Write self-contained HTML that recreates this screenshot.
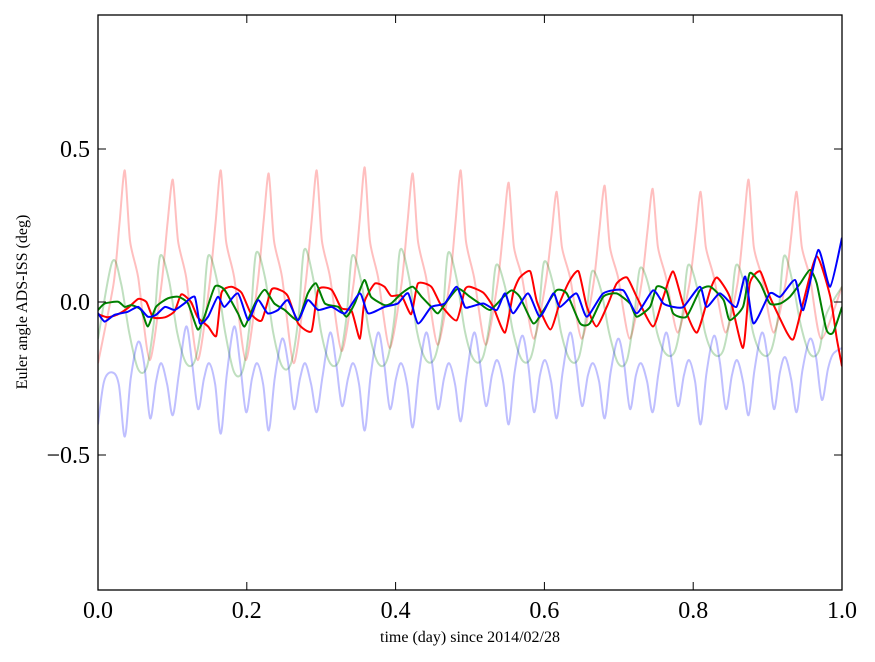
<!DOCTYPE html>
<html><head><meta charset="utf-8"><style>
body{margin:0;background:#fff;}
svg{display:block;font-family:"Liberation Serif",serif;}
</style></head><body>
<svg id="chart" width="875" height="662"></svg>
<script>
const pinkX=[0,0.021,0.029,0.036,0.043,0.054,0.0695,0.0855,0.0935,0.1005,0.1075,0.1185,0.134,0.150,0.158,0.165,0.172,0.183,0.1985,0.2145,0.2225,0.2295,0.2365,0.2475,0.263,0.279,0.287,0.294,0.301,0.312,0.3275,0.3435,0.3515,0.3585,0.3655,0.3765,0.392,0.408,0.416,0.423,0.430,0.441,0.4565,0.4725,0.4805,0.4875,0.4945,0.5055,0.521,0.537,0.545,0.552,0.559,0.570,0.5855,0.6015,0.6095,0.6165,0.6235,0.6345,0.650,0.666,0.674,0.681,0.688,0.699,0.7145,0.7305,0.7385,0.7455,0.7525,0.7635,0.779,0.795,0.803,0.810,0.817,0.828,0.8435,0.8595,0.8675,0.8745,0.8815,0.8925,0.908,0.924,0.932,0.939,0.946,0.957,0.972,1.0];
const pinkY=[-0.2,0.06,0.26,0.43,0.2,0.08,-0.19,0.06,0.26,0.40,0.2,0.08,-0.19,0.06,0.26,0.43,0.2,0.08,-0.19,0.06,0.26,0.42,0.2,0.08,-0.2,0.06,0.26,0.43,0.2,0.08,-0.16,0.06,0.26,0.44,0.2,0.08,-0.15,0.06,0.26,0.42,0.2,0.08,-0.14,0.06,0.26,0.43,0.2,0.08,-0.14,0.06,0.24,0.39,0.18,0.08,-0.12,0.06,0.22,0.36,0.18,0.08,-0.12,0.06,0.24,0.38,0.18,0.08,-0.12,0.06,0.23,0.37,0.18,0.08,-0.1,0.06,0.22,0.36,0.18,0.08,-0.1,0.06,0.24,0.40,0.18,0.08,-0.1,0.06,0.22,0.36,0.18,0.08,-0.12,0.05];
const lgreenX=[0,0.019,0.031,0.042,0.054,0.066,0.076,0.0835,0.0955,0.1065,0.1185,0.1305,0.1405,0.148,0.160,0.171,0.183,0.195,0.205,0.2125,0.2245,0.2355,0.2475,0.2595,0.2695,0.277,0.289,0.300,0.312,0.324,0.334,0.3415,0.3535,0.3645,0.3765,0.3885,0.3985,0.406,0.418,0.429,0.441,0.453,0.463,0.4705,0.4825,0.4935,0.5055,0.5175,0.5275,0.535,0.547,0.558,0.570,0.582,0.592,0.5995,0.6115,0.6225,0.6345,0.6465,0.6565,0.664,0.676,0.687,0.699,0.711,0.721,0.7285,0.7405,0.7515,0.7635,0.7755,0.7855,0.793,0.805,0.816,0.828,0.840,0.850,0.8575,0.8695,0.8805,0.8925,0.9045,0.9145,0.922,0.934,0.945,0.957,0.969,0.979,1.0];
const lgreenY=[-0.12,0.13,0.06,-0.1,-0.22,-0.21,-0.05,0.15,0.07,-0.1,-0.2,-0.19,-0.05,0.15,0.07,-0.1,-0.23,-0.22,-0.05,0.16,0.08,-0.1,-0.21,-0.2,-0.05,0.17,0.08,-0.1,-0.2,-0.19,-0.05,0.15,0.07,-0.1,-0.2,-0.19,-0.05,0.17,0.08,-0.1,-0.19,-0.18,-0.05,0.16,0.07,-0.1,-0.19,-0.18,-0.05,0.12,0.05,-0.1,-0.19,-0.18,-0.05,0.13,0.06,-0.1,-0.19,-0.18,-0.04,0.10,0.04,-0.1,-0.2,-0.19,-0.04,0.11,0.05,-0.1,-0.17,-0.16,-0.04,0.12,0.05,-0.1,-0.17,-0.16,-0.04,0.12,0.05,-0.1,-0.17,-0.16,-0.04,0.15,0.06,-0.08,-0.17,-0.16,-0.04,0.05];
const lblueX=[0,0.008,0.019,0.028,0.036,0.044,0.054,0.062,0.070,0.078,0.085,0.093,0.1005,0.1085,0.1185,0.1265,0.1345,0.1425,0.1495,0.1575,0.165,0.173,0.183,0.191,0.199,0.207,0.214,0.222,0.2295,0.2375,0.2475,0.2555,0.2635,0.2715,0.2785,0.2865,0.294,0.302,0.312,0.320,0.328,0.336,0.343,0.351,0.3585,0.3665,0.3765,0.3845,0.3925,0.4005,0.4075,0.4155,0.423,0.431,0.441,0.449,0.457,0.465,0.472,0.480,0.4875,0.4955,0.5055,0.5135,0.5215,0.5295,0.5365,0.5445,0.552,0.560,0.570,0.578,0.586,0.594,0.601,0.609,0.6165,0.6245,0.6345,0.6425,0.6505,0.6585,0.6655,0.6735,0.681,0.689,0.699,0.707,0.715,0.723,0.730,0.738,0.7455,0.7535,0.7635,0.7715,0.7795,0.7875,0.7945,0.8025,0.810,0.818,0.828,0.836,0.844,0.852,0.859,0.867,0.8745,0.8825,0.8925,0.9005,0.9085,0.9165,0.9235,0.9315,0.939,0.947,0.957,0.965,0.973,0.981,0.988,1.0];
const lblueY=[-0.40,-0.26,-0.23,-0.27,-0.44,-0.25,-0.13,-0.2,-0.38,-0.26,-0.2,-0.27,-0.37,-0.24,-0.08,-0.2,-0.35,-0.25,-0.2,-0.27,-0.43,-0.24,-0.08,-0.2,-0.36,-0.25,-0.2,-0.27,-0.42,-0.25,-0.12,-0.2,-0.35,-0.25,-0.2,-0.27,-0.36,-0.24,-0.10,-0.2,-0.34,-0.25,-0.2,-0.27,-0.42,-0.24,-0.10,-0.2,-0.35,-0.25,-0.2,-0.27,-0.41,-0.24,-0.10,-0.2,-0.35,-0.25,-0.2,-0.27,-0.39,-0.24,-0.10,-0.2,-0.34,-0.24,-0.19,-0.26,-0.40,-0.23,-0.11,-0.2,-0.36,-0.24,-0.19,-0.26,-0.38,-0.23,-0.10,-0.2,-0.34,-0.24,-0.2,-0.26,-0.38,-0.23,-0.12,-0.2,-0.35,-0.24,-0.2,-0.26,-0.36,-0.23,-0.10,-0.2,-0.34,-0.24,-0.19,-0.26,-0.40,-0.23,-0.11,-0.2,-0.35,-0.24,-0.19,-0.26,-0.37,-0.22,-0.10,-0.19,-0.35,-0.23,-0.18,-0.25,-0.36,-0.22,-0.12,-0.18,-0.32,-0.22,-0.17,-0.15];
const redX=[0,0.013,0.027,0.040,0.054,0.065,0.074,0.090,0.103,0.112,0.125,0.134,0.148,0.159,0.166,0.179,0.193,0.206,0.220,0.233,0.244,0.255,0.269,0.287,0.296,0.314,0.327,0.341,0.352,0.358,0.372,0.385,0.394,0.408,0.421,0.430,0.448,0.461,0.482,0.493,0.5,0.518,0.531,0.547,0.558,0.567,0.581,0.590,0.608,0.621,0.634,0.646,0.657,0.670,0.684,0.697,0.711,0.724,0.746,0.760,0.773,0.787,0.805,0.823,0.832,0.849,0.867,0.876,0.890,0.903,0.926,0.935,0.948,0.966,0.984,0.993,1.0];
const redY=[-0.04,-0.05,-0.04,-0.02,0.01,0.0,-0.05,-0.05,-0.03,0.025,0.0,-0.05,-0.08,-0.11,0.03,0.05,0.03,-0.04,-0.06,0.04,0.04,0.02,-0.07,-0.095,0.04,0.04,-0.02,-0.03,-0.12,0.0,0.06,0.05,0.02,0.02,-0.04,0.06,0.05,-0.01,-0.06,0.04,0.05,0.03,-0.015,-0.1,0.03,0.08,0.10,0.0,-0.09,0.0,0.07,0.10,-0.015,-0.08,-0.015,0.06,0.08,0.017,-0.08,0.017,0.10,-0.01,-0.10,0.04,0.08,0.017,-0.15,0.06,0.10,0.017,-0.10,-0.12,0.0,0.15,0.02,-0.12,-0.21];
const greenX=[0,0.009,0.027,0.036,0.045,0.058,0.067,0.078,0.094,0.108,0.121,0.134,0.143,0.157,0.170,0.188,0.197,0.211,0.224,0.237,0.251,0.269,0.282,0.293,0.305,0.323,0.334,0.345,0.358,0.367,0.385,0.394,0.408,0.423,0.435,0.448,0.457,0.470,0.484,0.5,0.513,0.527,0.545,0.556,0.567,0.585,0.599,0.616,0.630,0.648,0.661,0.679,0.697,0.715,0.724,0.742,0.751,0.764,0.773,0.791,0.809,0.823,0.841,0.849,0.867,0.876,0.890,0.903,0.917,0.930,0.944,0.957,0.966,0.979,0.988,1.0];
const greenY=[-0.026,-0.005,0.001,-0.016,-0.01,-0.026,-0.08,-0.016,0.012,0.017,-0.005,-0.09,-0.048,0.05,0.04,-0.037,-0.08,-0.005,0.04,-0.005,-0.026,-0.059,0.028,0.061,-0.005,-0.016,-0.048,-0.005,0.072,0.017,-0.01,-0.005,0.028,0.05,0.017,-0.016,-0.037,0.006,0.044,0.017,-0.005,-0.026,0.017,0.038,0.017,-0.07,-0.026,0.038,0.028,-0.07,-0.07,0.017,0.028,-0.005,-0.048,-0.016,0.05,0.038,-0.037,-0.048,0.038,0.05,0.006,-0.059,-0.016,0.094,0.061,-0.005,-0.005,0.017,0.061,0.105,0.061,-0.09,-0.1,-0.016];
const blueX=[0,0.009,0.022,0.040,0.054,0.067,0.078,0.090,0.103,0.116,0.130,0.137,0.148,0.161,0.170,0.188,0.202,0.215,0.228,0.242,0.255,0.269,0.282,0.296,0.314,0.332,0.352,0.363,0.385,0.403,0.417,0.430,0.448,0.466,0.482,0.493,0.5,0.518,0.536,0.547,0.558,0.578,0.594,0.612,0.621,0.643,0.657,0.679,0.706,0.724,0.746,0.760,0.773,0.787,0.809,0.818,0.836,0.858,0.870,0.881,0.903,0.917,0.937,0.948,0.968,0.984,1.0];
const blueY=[-0.037,-0.064,-0.042,-0.032,-0.016,-0.048,-0.042,-0.016,-0.026,-0.005,0.017,-0.07,-0.048,0.017,-0.016,0.028,-0.059,0.006,-0.037,-0.026,0.006,-0.059,0.006,-0.026,-0.016,-0.037,0.028,-0.037,-0.016,-0.005,0.028,-0.07,-0.016,-0.005,0.05,-0.016,-0.016,-0.005,-0.026,0.028,-0.037,0.028,-0.048,0.028,-0.016,0.028,-0.048,0.028,0.038,-0.037,0.038,-0.005,-0.016,-0.016,0.05,-0.016,0.028,-0.016,0.083,-0.07,0.028,0.017,0.072,-0.026,0.17,0.05,0.21];
const xTicks=[0,0.2,0.4,0.6,0.8,1.0];
const xTickLabels=["0.0","0.2","0.4","0.6","0.8","1.0"];
const yTicks=[-0.5,0,0.5];
const yTickLabels=["\u22120.5","0.0","0.5"];

const L=98,R=842,T=15,B=590;
const sx=v=>L+v*(R-L);
const sy=v=>302-v*306;
const svg=document.getElementById('chart');
const NS='http://www.w3.org/2000/svg';
function mk(tag,attrs){const e=document.createElementNS(NS,tag);for(const k in attrs)e.setAttribute(k,attrs[k]);svg.appendChild(e);return e;}
function line(xs,ys,color,op,name,smooth){
  const P=xs.map((x,i)=>[sx(x),sy(ys[i])]);
  let d='M'+P[0][0].toFixed(1)+' '+P[0][1].toFixed(1);
  for(let i=0;i<P.length-1;i++){
    if(!smooth){d+='L'+P[i+1][0].toFixed(1)+' '+P[i+1][1].toFixed(1);continue;}
    const p0=P[Math.max(i-1,0)],p1=P[i],p2=P[i+1],p3=P[Math.min(i+2,P.length-1)];
    const k=smooth;
    const c1=[p1[0]+(p2[0]-p0[0])*k,p1[1]+(p2[1]-p0[1])*k];
    const c2=[p2[0]-(p3[0]-p1[0])*k,p2[1]-(p3[1]-p1[1])*k];
    d+='C'+c1[0].toFixed(1)+' '+c1[1].toFixed(1)+' '+c2[0].toFixed(1)+' '+c2[1].toFixed(1)+' '+p2[0].toFixed(1)+' '+p2[1].toFixed(1);
  }
  const p=mk('path',{d:d,fill:'none',stroke:color,'stroke-width':2,'stroke-opacity':op,'stroke-linejoin':'round','clip-path':'url(#cp)'});
  
  
}
const cp=mk('clipPath',{id:'cp'});
const cr=document.createElementNS(NS,'rect');cr.setAttribute('x',L);cr.setAttribute('y',T);cr.setAttribute('width',R-L);cr.setAttribute('height',B-T);cp.appendChild(cr);
line(pinkX,pinkY,'#ff0000',0.25,'series-light-red',0.12);
line(lgreenX,lgreenY,'#008000',0.25,'series-light-green',0.16);
line(lblueX,lblueY,'#0000ff',0.25,'series-light-blue',0.16);
line(redX,redY,'#ff0000',1,'series-red',0.1);
line(greenX,greenY,'#008000',1,'series-green',0.1);
line(blueX,blueY,'#0000ff',1,'series-blue',0.1);
const fr=mk('rect',{x:L,y:T,width:R-L,height:B-T,fill:'none',stroke:'#000','stroke-width':1.3});


xTicks.forEach((v,i)=>{
  const x=sx(v);
  mk('line',{x1:x,y1:B,x2:x,y2:B-8,stroke:'#000'});
  mk('line',{x1:x,y1:T,x2:x,y2:T+8,stroke:'#000'});
  const t=mk('text',{x:x,y:B+28,'text-anchor':'middle','font-size':24});
  t.textContent=xTickLabels[i];
  
  
});
yTicks.forEach((v,i)=>{
  const y=sy(v);
  mk('line',{x1:L,y1:y,x2:L+8,y2:y,stroke:'#000'});
  mk('line',{x1:R,y1:y,x2:R-8,y2:y,stroke:'#000'});
  const t=mk('text',{x:L-8,y:y+8,'text-anchor':'end','font-size':24});
  t.textContent=yTickLabels[i];
  
  
});
const xl=mk('text',{x:(L+R)/2,y:642,'text-anchor':'middle','font-size':16});
xl.textContent='time (day) since 2014/02/28';


const yl=mk('text',{x:0,y:0,'text-anchor':'middle','font-size':16,transform:'translate(27,302) rotate(-90)'});
yl.textContent='Euler angle ADS-ISS (deg)';


</script>
</body></html>
